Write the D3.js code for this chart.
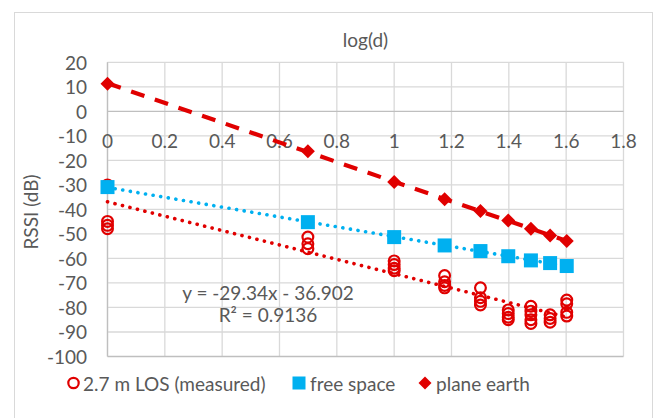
<!DOCTYPE html>
<html>
<head>
<meta charset="utf-8">
<script src="https://cdn.jsdelivr.net/npm/d3@7"></script>
<style>
  body { margin: 0; background: #fff; }
  svg { display: block; font-family: Lato, 'Open Sans', sans-serif; }
</style>
</head>
<body>
<svg id="chart" width="658" height="418"></svg>
<script>
// log10 of distance (1, 5, 10, 15, 20, 25, 30, 35, 40 m)
const logD = [0, 0.699, 1, 1.176, 1.301, 1.398, 1.477, 1.544, 1.602];
const freeSpace = [-30.9, -45.2, -51.3, -54.7, -57, -59.1, -60.8, -61.9, -63.1];
const planeEarth = [11.3, -16.3, -28.8, -35.9, -40.7, -44.5, -47.9, -50.6, -52.9];
// several measured readings at each distance
const measured = [
  [-30, -44.9, -46.5, -47.9],
  [-51.3, -54, -56],
  [-61, -62.5, -64, -65],
  [-67, -69.5, -71, -72],
  [-72, -76, -77.5, -79],
  [-81, -82.5, -84, -85],
  [-79.5, -81.5, -83, -85, -86.5],
  [-83, -84.5, -86],
  [-77, -78.5, -82, -83.5]
];
const trendSlope = -29.34;
const trendIntercept = -36.902;
const xTicks = [0, 0.2, 0.4, 0.6, 0.8, 1, 1.2, 1.4, 1.6, 1.8];
const yTicks = [20, 10, 0, -10, -20, -30, -40, -50, -60, -70, -80, -90, -100];
const legendNames = ['2.7 m LOS (measured)', 'free space', 'plane earth'];

const RED = '#e00000';
const BLUE = '#00b0f0';
const TEXT = '#595959';
const GRID = '#d9d9d9';
const AXIS = '#bfbfbf';
const FONT = 19;

const svg = d3.select('#chart');
const plotLeft = 107.5, plotRight = 623.5, plotTop = 62.3, plotBottom = 356.5;

let x = d3.scaleLinear().domain([0, 1.8]).range([plotLeft, plotRight]);
let y = d3.scaleLinear().domain([-100, 20]).range([plotBottom, plotTop]);

// chart border
svg.append('rect')
  .attr('x', 14.5).attr('y', 12.5)
  .attr('width', 638).attr('height', 420)
  .attr('fill', 'none')
  .attr('stroke', GRID);

// gridlines
let grid = svg.append('g');
grid.selectAll('.gx').data(xTicks).enter().append('line')
  .attr('x1', d => x(d)).attr('x2', d => x(d))
  .attr('y1', plotTop).attr('y2', plotBottom)
  .attr('stroke', GRID).attr('stroke-width', 1.3);
grid.selectAll('.gy').data(yTicks).enter().append('line')
  .attr('x1', plotLeft).attr('x2', plotRight)
  .attr('y1', d => y(d)).attr('y2', d => y(d))
  .attr('stroke', d => (d === 0 || d === -100) ? AXIS : GRID)
  .attr('stroke-width', 1.3);
grid.append('line')
  .attr('x1', x(0)).attr('x2', x(0))
  .attr('y1', plotTop).attr('y2', plotBottom)
  .attr('stroke', AXIS).attr('stroke-width', 1.3);

// tick labels
svg.append('g').selectAll('text').data(yTicks).enter().append('text')
  .attr('x', 87).attr('y', d => y(d))
  .attr('text-anchor', 'end')
  .attr('dominant-baseline', 'central')
  .attr('font-size', FONT).attr('fill', TEXT)
  .text(d => d);
svg.append('g').selectAll('text').data(xTicks).enter().append('text')
  .attr('x', d => x(d)).attr('y', y(0) + 29)
  .attr('text-anchor', 'middle')
  .attr('dominant-baseline', 'central')
  .attr('font-size', FONT).attr('fill', TEXT)
  .text(d => d);

// axis titles
svg.append('text')
  .attr('x', (plotLeft + plotRight) / 2).attr('y', 47)
  .attr('text-anchor', 'middle')
  .attr('font-size', FONT).attr('fill', TEXT)
  .text('log(d)');
svg.append('text')
  .attr('transform', 'translate(38,212) rotate(-90)')
  .attr('text-anchor', 'middle')
  .attr('font-size', FONT).attr('fill', TEXT)
  .text('RSSI (dB)');

// least squares fit for the model series
const linFit = (xs, ys) => {
  let mx = d3.mean(xs), my = d3.mean(ys);
  let sxy = d3.sum(xs, (v, i) => (v - mx) * (ys[i] - my));
  let sxx = d3.sum(xs, v => (v - mx) * (v - mx));
  let b = sxy / sxx;
  return { slope: b, intercept: my - b * mx };
};

const drawTrend = (fit, color, width, dash, cap) => {
  let x0 = logD[0], x1 = logD[logD.length - 1];
  svg.append('line')
    .attr('x1', x(x0)).attr('y1', y(fit.intercept + fit.slope * x0))
    .attr('x2', x(x1)).attr('y2', y(fit.intercept + fit.slope * x1))
    .attr('stroke', color)
    .attr('stroke-width', width)
    .attr('stroke-dasharray', dash)
    .attr('stroke-linecap', cap);
};

drawTrend({ slope: trendSlope, intercept: trendIntercept }, RED, 3.6, '0.1 7.6', 'round');
drawTrend(linFit(logD, freeSpace), BLUE, 3.6, '0.1 7.6', 'round');
drawTrend(linFit(logD, planeEarth), RED, 4.2, '14 11', 'butt');

// measured points
let points = [];
measured.forEach((list, i) => {
  list.forEach(v => points.push({ lx: logD[i], v: v }));
});
svg.append('g').selectAll('circle').data(points).enter().append('circle')
  .attr('cx', d => x(d.lx)).attr('cy', d => y(d.v))
  .attr('r', 5.4)
  .attr('fill', 'none')
  .attr('stroke', RED)
  .attr('stroke-width', 2.2);

// free space squares
svg.append('g').selectAll('rect').data(logD).enter().append('rect')
  .attr('x', d => x(d) - 7).attr('y', (d, i) => y(freeSpace[i]) - 7)
  .attr('width', 14).attr('height', 14)
  .attr('fill', BLUE);

// plane earth diamonds
const diamond = (cx, cy, r) => `M${cx},${cy - r}L${cx + r},${cy}L${cx},${cy + r}L${cx - r},${cy}Z`;
svg.append('g').selectAll('path').data(logD).enter().append('path')
  .attr('d', (d, i) => diamond(x(d), y(planeEarth[i]), 7))
  .attr('fill', RED);

// trendline label
let eq = svg.append('text')
  .attr('x', 268).attr('y', 300)
  .attr('text-anchor', 'middle')
  .attr('font-size', FONT).attr('fill', TEXT);
eq.append('tspan').attr('x', 268).text(`y = ${trendSlope}x - ${-trendIntercept}`);
eq.append('tspan').attr('x', 268).attr('dy', 22).text('R² = 0.9136');

// legend
let legend = svg.append('g');
legend.append('circle')
  .attr('cx', 73.5).attr('cy', 383).attr('r', 5.2)
  .attr('fill', 'none').attr('stroke', RED).attr('stroke-width', 2.2);
legend.append('rect')
  .attr('x', 292.5).attr('y', 376.5).attr('width', 13).attr('height', 13)
  .attr('fill', BLUE);
legend.append('path')
  .attr('d', diamond(425, 383, 6.5))
  .attr('fill', RED);
let legendX = [83, 310, 436];
legend.selectAll('text').data(legendNames).enter().append('text')
  .attr('x', (d, i) => legendX[i]).attr('y', 383)
  .attr('dominant-baseline', 'central')
  .attr('font-size', FONT).attr('fill', TEXT)
  .text(d => d);
</script>
</body>
</html>
